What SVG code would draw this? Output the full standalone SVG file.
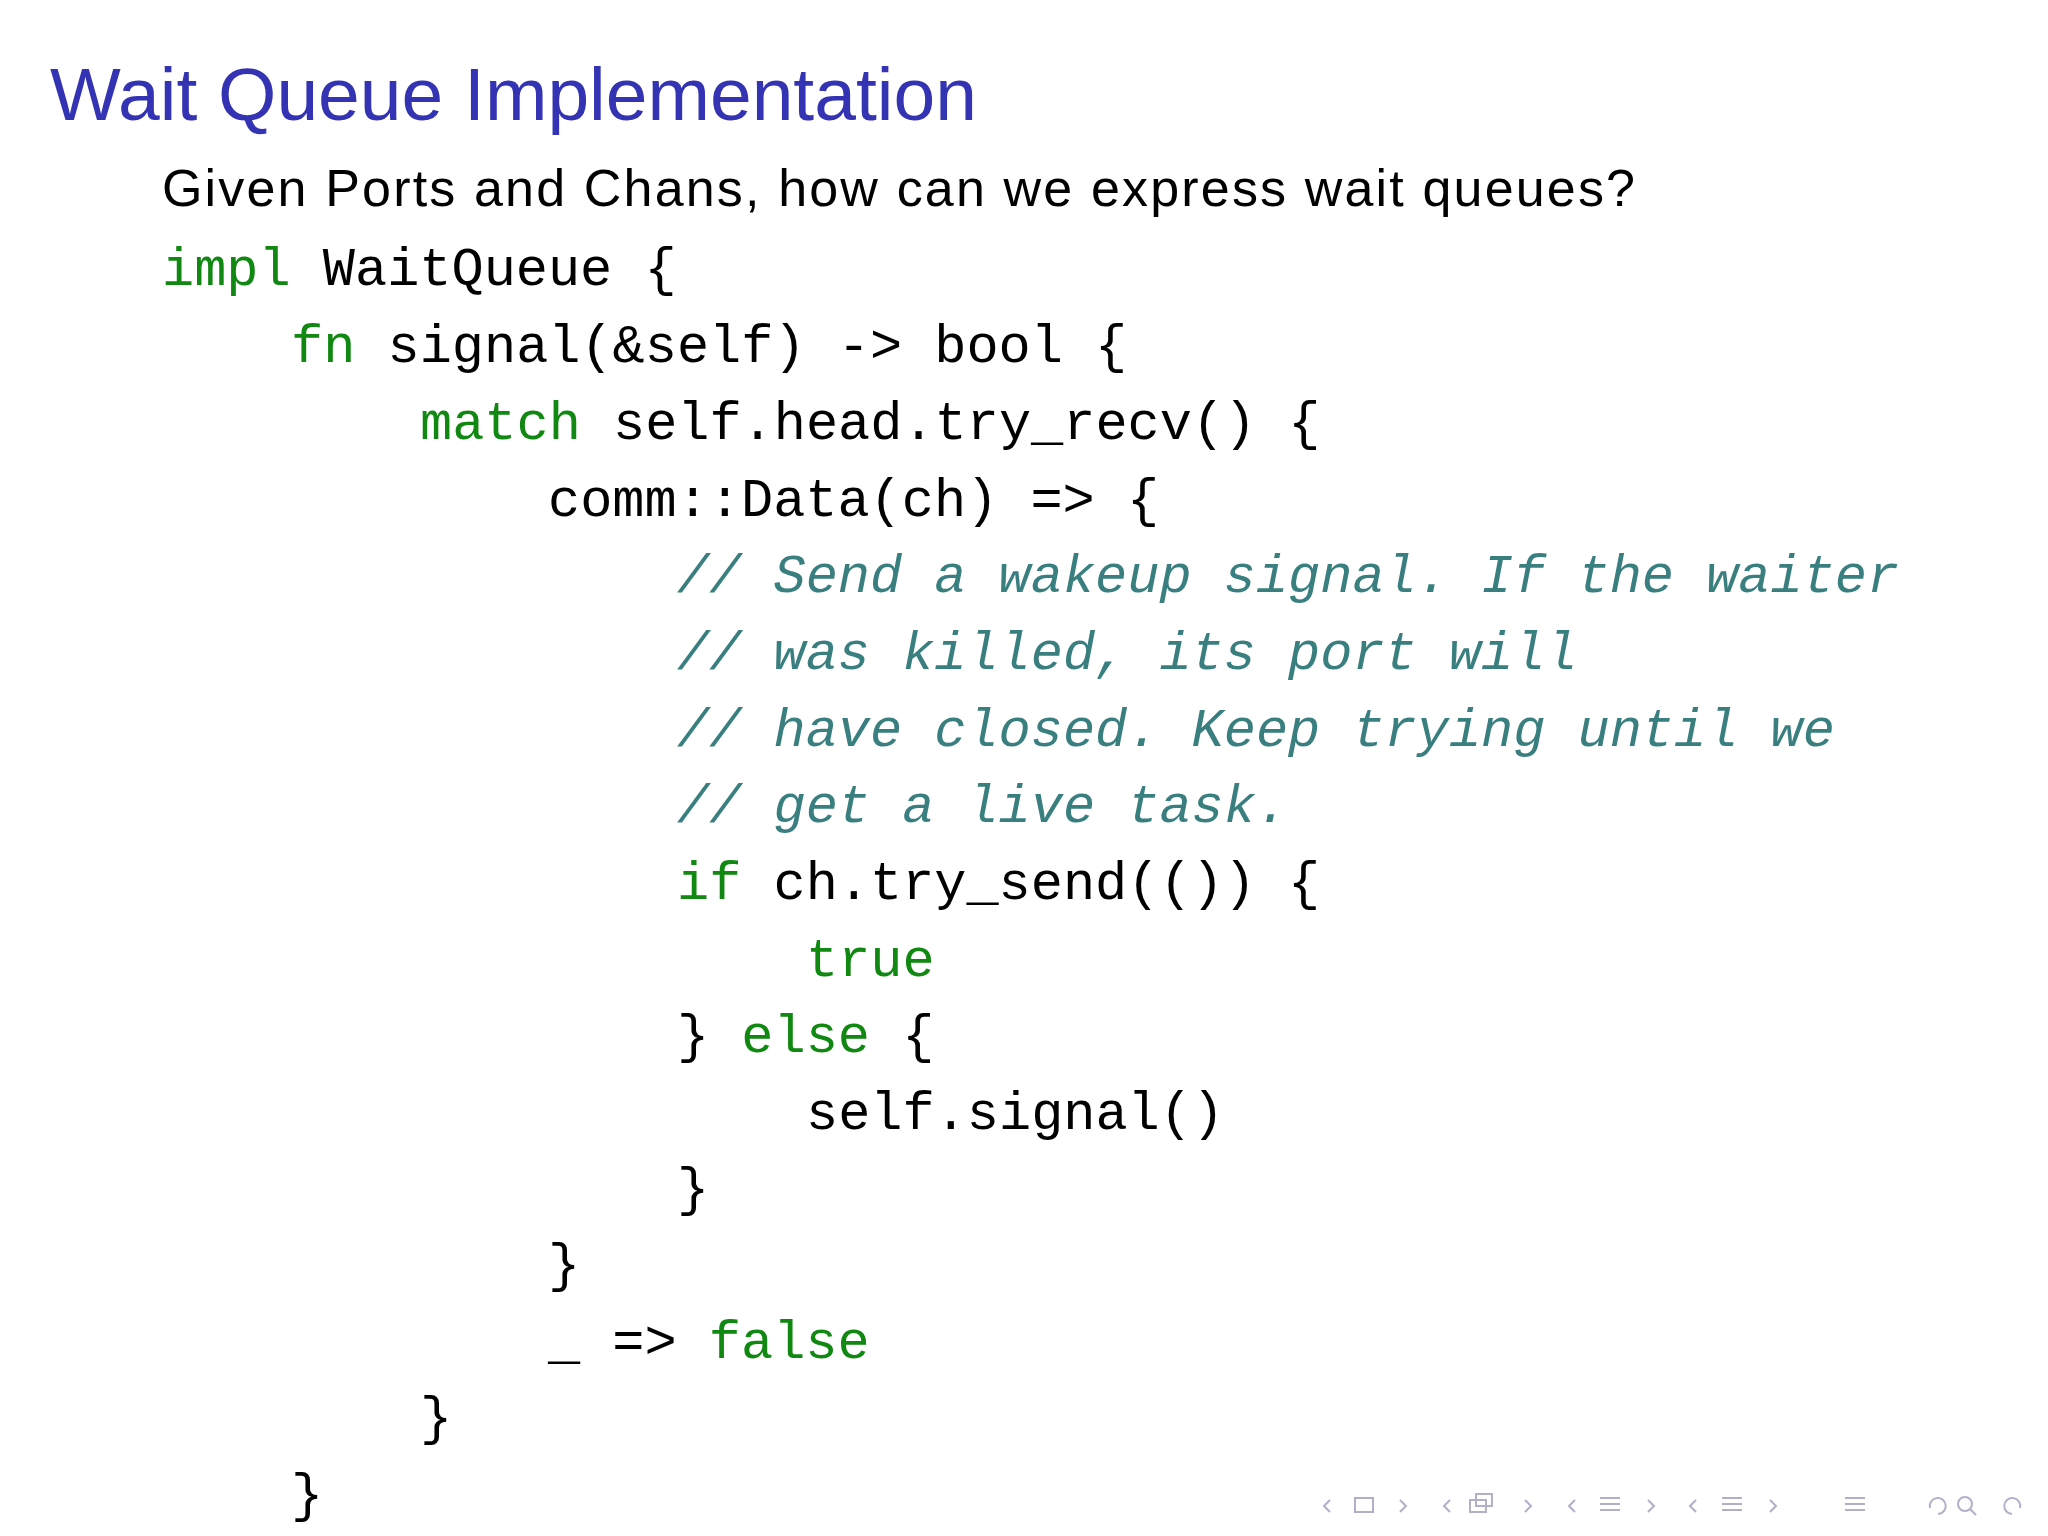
<svg xmlns="http://www.w3.org/2000/svg" width="2048" height="1536" viewBox="0 0 2048 1536">
<style>
.t{font-family:"Liberation Sans",Arial,sans-serif;fill:#3333b3;font-size:75px}
.s{font-family:"Liberation Sans",Arial,sans-serif;fill:#000;font-size:52px}
.c{font-family:"Liberation Mono","DejaVu Sans Mono",monospace;font-size:53.6px;fill:#000}
.k{fill:#118811}
.m{fill:#3a7f7f;font-style:italic}
.n{fill:none;stroke:#b0b0c8;stroke-width:2}
</style>
<rect width="2048" height="1536" fill="#fff"/>
<text class="t" x="50" y="120">Wait Queue Implementation</text>
<text class="s" x="162" y="206" textLength="1473" lengthAdjust="spacing">Given Ports and Chans, how can we express wait queues?</text>
<g class="c">
<text x="162" y="285"><tspan class="k">impl</tspan> WaitQueue {</text>
<text x="291" y="362"><tspan class="k">fn</tspan> signal(&amp;self) -&gt; bool {</text>
<text x="420" y="439"><tspan class="k">match</tspan> self.head.try_recv() {</text>
<text x="548" y="516">comm::Data(ch) =&gt; {</text>
<text x="677" y="592" class="m">// Send a wakeup signal. If the waiter</text>
<text x="677" y="669" class="m">// was killed, its port will</text>
<text x="677" y="746" class="m">// have closed. Keep trying until we</text>
<text x="677" y="822" class="m">// get a live task.</text>
<text x="677" y="899"><tspan class="k">if</tspan> ch.try_send(()) {</text>
<text x="806" y="976" class="k">true</text>
<text x="677" y="1052">} <tspan class="k">else</tspan> {</text>
<text x="806" y="1129">self.signal()</text>
<text x="677" y="1205">}</text>
<text x="548" y="1281">}</text>
<text x="548" y="1358">_ =&gt; <tspan class="k">false</tspan></text>
<text x="420" y="1434">}</text>
<text x="291" y="1511">}</text>
</g>
<g id="nav" class="n">
<path d="M1330 1500l-6 6 6 6M1400 1500l6 6-6 6"/><rect x="1355" y="1498" width="18" height="14"/>
<path d="M1450 1500l-6 6 6 6M1525 1500l6 6-6 6"/><rect x="1470" y="1500" width="16" height="12"/><rect x="1476" y="1494" width="16" height="12"/>
<path d="M1575 1500l-6 6 6 6M1648 1500l6 6-6 6M1600 1498h20M1600 1504h20M1600 1510h20"/>
<path d="M1696 1500l-6 6 6 6M1770 1500l6 6-6 6M1722 1498h20M1722 1504h20M1722 1510h20"/>
<path d="M1845 1498h20M1845 1504h20M1845 1510h20"/>
<path d="M1930 1508a8 8 0 1 1 8 6"/><circle cx="1965" cy="1504" r="7"/><path d="M1970 1509l6 6"/><path d="M2020 1508a8 8 0 1 0-8 6"/>
</g>
</svg>
